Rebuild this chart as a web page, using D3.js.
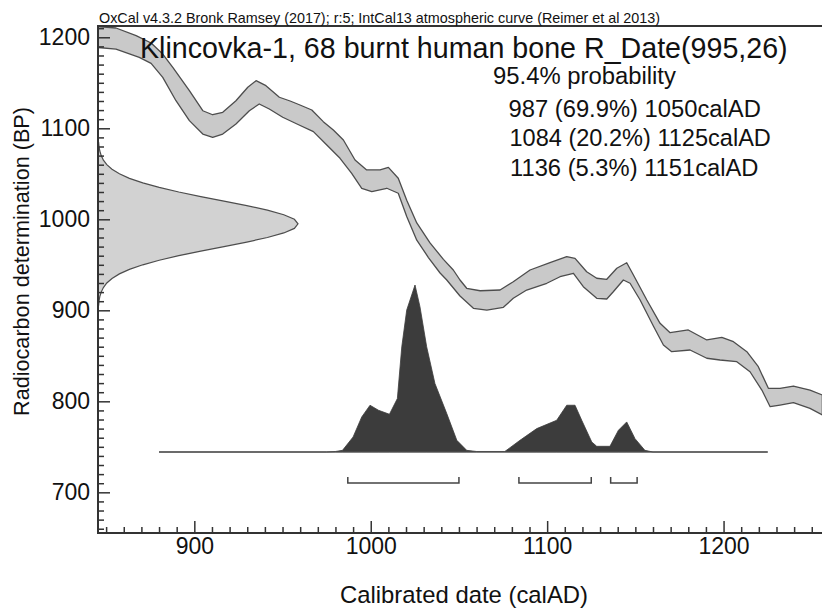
<!DOCTYPE html>
<html>
<head>
<meta charset="utf-8">
<script src="https://cdn.jsdelivr.net/npm/d3@7"></script>
<style>
  html, body { margin: 0; padding: 0; background: #fff; }
  svg { display: block; }
</style>
</head>
<body>
<svg id="chart" width="822" height="608"></svg>
<script>
// ---------------- data ----------------
const headerText = "OxCal v4.3.2 Bronk Ramsey (2017); r:5; IntCal13 atmospheric curve (Reimer et al 2013)";
const sampleName = "Klincovka-1, 68 burnt human bone";
const rDate = [995, 26];
const probLevel = "95.4% probability";
const rangeFrom = [987, 1084, 1136];
const rangeTo = [1050, 1125, 1151];
const rangePct = [69.9, 20.2, 5.3];

const xTicks = [900, 1000, 1100, 1200];
const yTicks = [700, 800, 900, 1000, 1100, 1200];
const xLabel = "Calibrated date (calAD)";
const yLabel = "Radiocarbon determination (BP)";

// IntCal13 band, upper (+1 sigma) edge: [calAD, BP]
const curveUpper = [
  [844, 1212], [855.6, 1210.2], [867.0, 1201.8], [875.5, 1193.7], [882.1, 1181.6],
  [887.8, 1167.0], [897.2, 1141.3], [904.8, 1119.3], [910.4, 1114.9], [916.1, 1117.6],
  [923.6, 1130.3], [930.3, 1145.1], [935.0, 1152.3], [940.6, 1146.8], [948.2, 1134.1],
  [954.3, 1130.0], [959.9, 1125.6], [966.6, 1120.1], [973.1, 1107.3], [978.8, 1098.1],
  [984.5, 1087.1], [991.1, 1065.2], [997.7, 1054.2], [1005.3, 1054.2], [1010.0, 1057.1],
  [1015.6, 1045.1], [1020.4, 1021.0], [1026.1, 996.0], [1033.6, 974.0], [1041.2, 956.0],
  [1046.8, 944.3], [1050.6, 933.3], [1054.4, 924.2], [1062.0, 921.5], [1073.3, 922.3],
  [1080.8, 931.4], [1090.3, 944.3], [1101.6, 952.3], [1111.1, 958.9], [1115.8, 957.1],
  [1122.4, 942.4], [1128.1, 935.2], [1133.8, 934.1], [1139.5, 946.2], [1145.1, 952.3],
  [1148.9, 938.8], [1156.5, 911.3], [1164.0, 885.7], [1169.7, 875.4], [1180.0, 878.4],
  [1190.5, 867.4], [1199.0, 870.3], [1205.6, 865.5], [1213.2, 854.5], [1219.7, 838.0],
  [1225.4, 814.3], [1232.0, 814.3], [1239.6, 816.8], [1249.0, 812.4], [1256, 806.9]
];
// IntCal13 band, lower (-1 sigma) edge: [calAD, BP]
const curveLower = [
  [844, 1189.0], [855.6, 1187.1], [868.8, 1178.0], [875.5, 1171.4], [882.1, 1156.0],
  [889.6, 1130.3], [897.2, 1108.4], [904.8, 1093.7], [910.4, 1090.1], [916.1, 1093.7],
  [923.6, 1104.7], [931.2, 1119.3], [936.8, 1126.7], [942.5, 1121.2], [950.1, 1112.1],
  [958.8, 1104.2], [967.5, 1096.3], [975.1, 1081.6], [982.6, 1067.0], [989.2, 1050.5],
  [994.9, 1034.1], [1000.6, 1030.3], [1009.1, 1034.1], [1015.6, 1028.6], [1020.4, 1003.0],
  [1026.1, 977.0], [1032.7, 958.0], [1039.3, 941.0], [1043.1, 933.3], [1050.6, 915.7],
  [1058.2, 902.2], [1065.8, 900.3], [1075.2, 903.3], [1080.8, 913.2], [1088.4, 922.3],
  [1099.8, 929.7], [1107.3, 936.9], [1114.9, 940.7], [1120.5, 925.9], [1128.1, 913.2],
  [1133.8, 912.4], [1137.5, 920.4], [1143.2, 933.3], [1147.0, 929.7], [1152.7, 911.3],
  [1160.2, 882.7], [1165.9, 861.9], [1170.6, 854.5], [1181.0, 856.4], [1190.5, 847.3],
  [1198.0, 845.4], [1207.5, 843.5], [1215.0, 832.5], [1221.7, 812.4], [1226.4, 794.1],
  [1232.0, 795.9], [1239.6, 798.5], [1249.0, 792.3], [1256, 785.0]
];

// Radiocarbon measurement, relative density by BP
const dateBP = [1085, 1080, 1075, 1070, 1065, 1060, 1055, 1050, 1045, 1040, 1035, 1030, 1025,
  1020, 1015, 1010, 1005, 1000, 995, 990, 985, 980, 975, 970, 965, 960, 955, 950, 945, 940,
  935, 930, 925, 920, 915, 910, 905];
const dateDensity = [0.003, 0.005, 0.009, 0.016, 0.027, 0.044, 0.07, 0.107, 0.157, 0.224, 0.306,
  0.404, 0.514, 0.63, 0.744, 0.847, 0.929, 0.982, 1, 0.982, 0.929, 0.847, 0.744, 0.63, 0.514,
  0.404, 0.306, 0.224, 0.157, 0.107, 0.07, 0.044, 0.027, 0.016, 0.009, 0.005, 0.003];

// Calibrated date, relative probability by calAD
const calYear = [880, 975, 980, 984, 990, 994.9, 999.6, 1004.4, 1010.6, 1015.1, 1017.6, 1020.4,
  1025.1, 1027.9, 1031.7, 1036.4, 1043.1, 1048.8, 1054.4, 1060, 1076, 1084.6, 1094.1, 1105.4,
  1111.1, 1115.8, 1119.6, 1125.3, 1128.1, 1135.6, 1140.4, 1145.1, 1149.8, 1155.4, 1160, 1225];
const calProb = [0, 0, 0.003, 0.01, 0.09, 0.21, 0.28, 0.25, 0.226, 0.32, 0.63, 0.85,
  1, 0.87, 0.63, 0.41, 0.23, 0.07, 0.01, 0.003, 0.003, 0.07, 0.14, 0.19,
  0.28, 0.28, 0.19, 0.06, 0.034, 0.034, 0.13, 0.18, 0.08, 0.01, 0, 0];

// ---------------- layout ----------------
const FONT = "'Liberation Sans', Arial, Helvetica, sans-serif";
const plot = { left: 98, top: 26, bottom: 533, right: 822 };

const svg = d3.select("#chart");

const x = d3.scaleLinear().domain([845.4, 1255.8]).range([plot.left, plot.right]);
const y = d3.scaleLinear().domain([655.3, 1212.4]).range([plot.bottom, plot.top]);
// width of the measured-date profile drawn off the BP axis
const gx = d3.scaleLinear().domain([0, 1]).range([plot.left, plot.left + 200]);
// height of the calibrated distribution above its baseline
const py = d3.scaleLinear().domain([0, 1]).range([452, 285]);

svg.append("defs").append("clipPath").attr("id", "plotClip")
  .append("rect")
  .attr("x", plot.left).attr("y", plot.top)
  .attr("width", 900).attr("height", plot.bottom - plot.top);

const body = svg.append("g").attr("clip-path", "url(#plotClip)");

// calibration curve band
const bandPts = curveUpper.concat(curveLower.slice().reverse());
body.append("path")
  .attr("d", d3.line().x(d => x(d[0])).y(d => y(d[1]))(bandPts) + "Z")
  .attr("fill", "#c9c9c9")
  .attr("stroke", "#4d4d4d")
  .attr("stroke-width", 1.3)
  .attr("stroke-linejoin", "round");

// measured radiocarbon date on the BP axis
const dateRows = dateBP.map((b, i) => [b, dateDensity[i]]);
body.append("path")
  .attr("d", d3.area().y(d => y(d[0])).x0(gx(0)).x1(d => gx(d[1]))(dateRows))
  .attr("fill", "#d2d2d2");
body.append("path")
  .attr("d", d3.line().y(d => y(d[0])).x(d => gx(d[1]))(dateRows))
  .attr("fill", "none")
  .attr("stroke", "#4d4d4d")
  .attr("stroke-width", 1.2);

// calibrated distribution
const calRows = calYear.map((c, i) => [c, calProb[i]]);
body.append("path")
  .attr("d", d3.area().x(d => x(d[0])).y0(py(0)).y1(d => py(d[1]))(calRows))
  .attr("fill", "#3c3c3c")
  .attr("stroke", "#3c3c3c")
  .attr("stroke-width", 0.8);
body.append("line")
  .attr("x1", x(calYear[0])).attr("x2", x(calYear[calYear.length - 1]))
  .attr("y1", py(0)).attr("y2", py(0))
  .attr("stroke", "#555").attr("stroke-width", 1.2);

// 95.4% ranges
const bracketY = 483;
const brackets = svg.append("g").attr("fill", "none").attr("stroke", "#444").attr("stroke-width", 1.5);
rangeFrom.forEach((f, i) => {
  const x1 = x(f), x2 = x(rangeTo[i]);
  brackets.append("path")
    .attr("d", `M${x1},${bracketY - 6}V${bracketY}H${x2}V${bracketY - 6}`);
});

// frame
const frame = svg.append("g").attr("stroke", "#333").attr("stroke-width", 2).attr("fill", "none");
frame.append("path")
  .attr("d", `M${plot.right + 10},${plot.top}H${plot.left}V${plot.bottom}H${plot.right + 10}`);

// axes
function styleAxis(g) {
  g.select(".domain").remove();
  g.selectAll(".tick line").attr("stroke", "#333").attr("stroke-width", 1.5);
  g.selectAll(".tick text").attr("fill", "#111").style("font-family", FONT).style("font-size", "23px");
}

const xMinor = d3.range(850, 1260, 10).filter(v => !xTicks.includes(v));
svg.append("g").attr("transform", `translate(0,${plot.bottom})`)
  .call(d3.axisBottom(x).tickValues(xMinor).tickSize(-6).tickFormat(""))
  .call(styleAxis);
svg.append("g").attr("transform", `translate(0,${plot.bottom})`)
  .call(d3.axisBottom(x).tickValues(xTicks).tickSize(-12).tickPadding(5).tickFormat(d3.format("d")))
  .call(styleAxis);

const yMinor = d3.range(660, 1215, 10).filter(v => !yTicks.includes(v));
svg.append("g").attr("transform", `translate(${plot.left},0)`)
  .call(d3.axisLeft(y).tickValues(yMinor).tickSize(-6).tickFormat(""))
  .call(styleAxis);
svg.append("g").attr("transform", `translate(${plot.left},0)`)
  .call(d3.axisLeft(y).tickValues(yTicks).tickSize(-12).tickPadding(8).tickFormat(d3.format("d")))
  .call(styleAxis);

// text helpers
function fitWidth(t, w) {
  const len = t.node().getComputedTextLength();
  const fs = parseFloat(t.attr("font-size"));
  if (len > 0) t.attr("font-size", (fs * w / len).toFixed(2));
  return t;
}
function addText(str, px, pyy, size, w) {
  const t = svg.append("text")
    .attr("x", px).attr("y", pyy)
    .attr("font-family", FONT)
    .attr("font-size", size)
    .attr("fill", "#111")
    .text(str);
  if (w) fitWidth(t, w);
  return t;
}

addText(headerText, 99, 22.5, 13, 561);
addText(`${sampleName} R_Date(${rDate[0]},${rDate[1]})`, 140, 58, 28, 648);
addText(probLevel, 493, 83.5, 24, 183);

const rowX = [508.5, 509.5, 510];
const rowY = [116.5, 146, 175.5];
const rowW = [252.5, 261.5, 248.5];
rangeFrom.forEach((f, i) => {
  addText(`${f} (${rangePct[i].toFixed(1)}%) ${rangeTo[i]}calAD`, rowX[i], rowY[i], 24, rowW[i]);
});

// axis titles
addText(xLabel, 340, 603, 24, 248);
const yl = svg.append("text")
  .attr("transform", "translate(29,261.5) rotate(-90)")
  .attr("text-anchor", "middle")
  .attr("font-family", FONT)
  .attr("font-size", 23)
  .attr("fill", "#111")
  .text(yLabel);
fitWidth(yl, 309);
</script>
</body>
</html>
